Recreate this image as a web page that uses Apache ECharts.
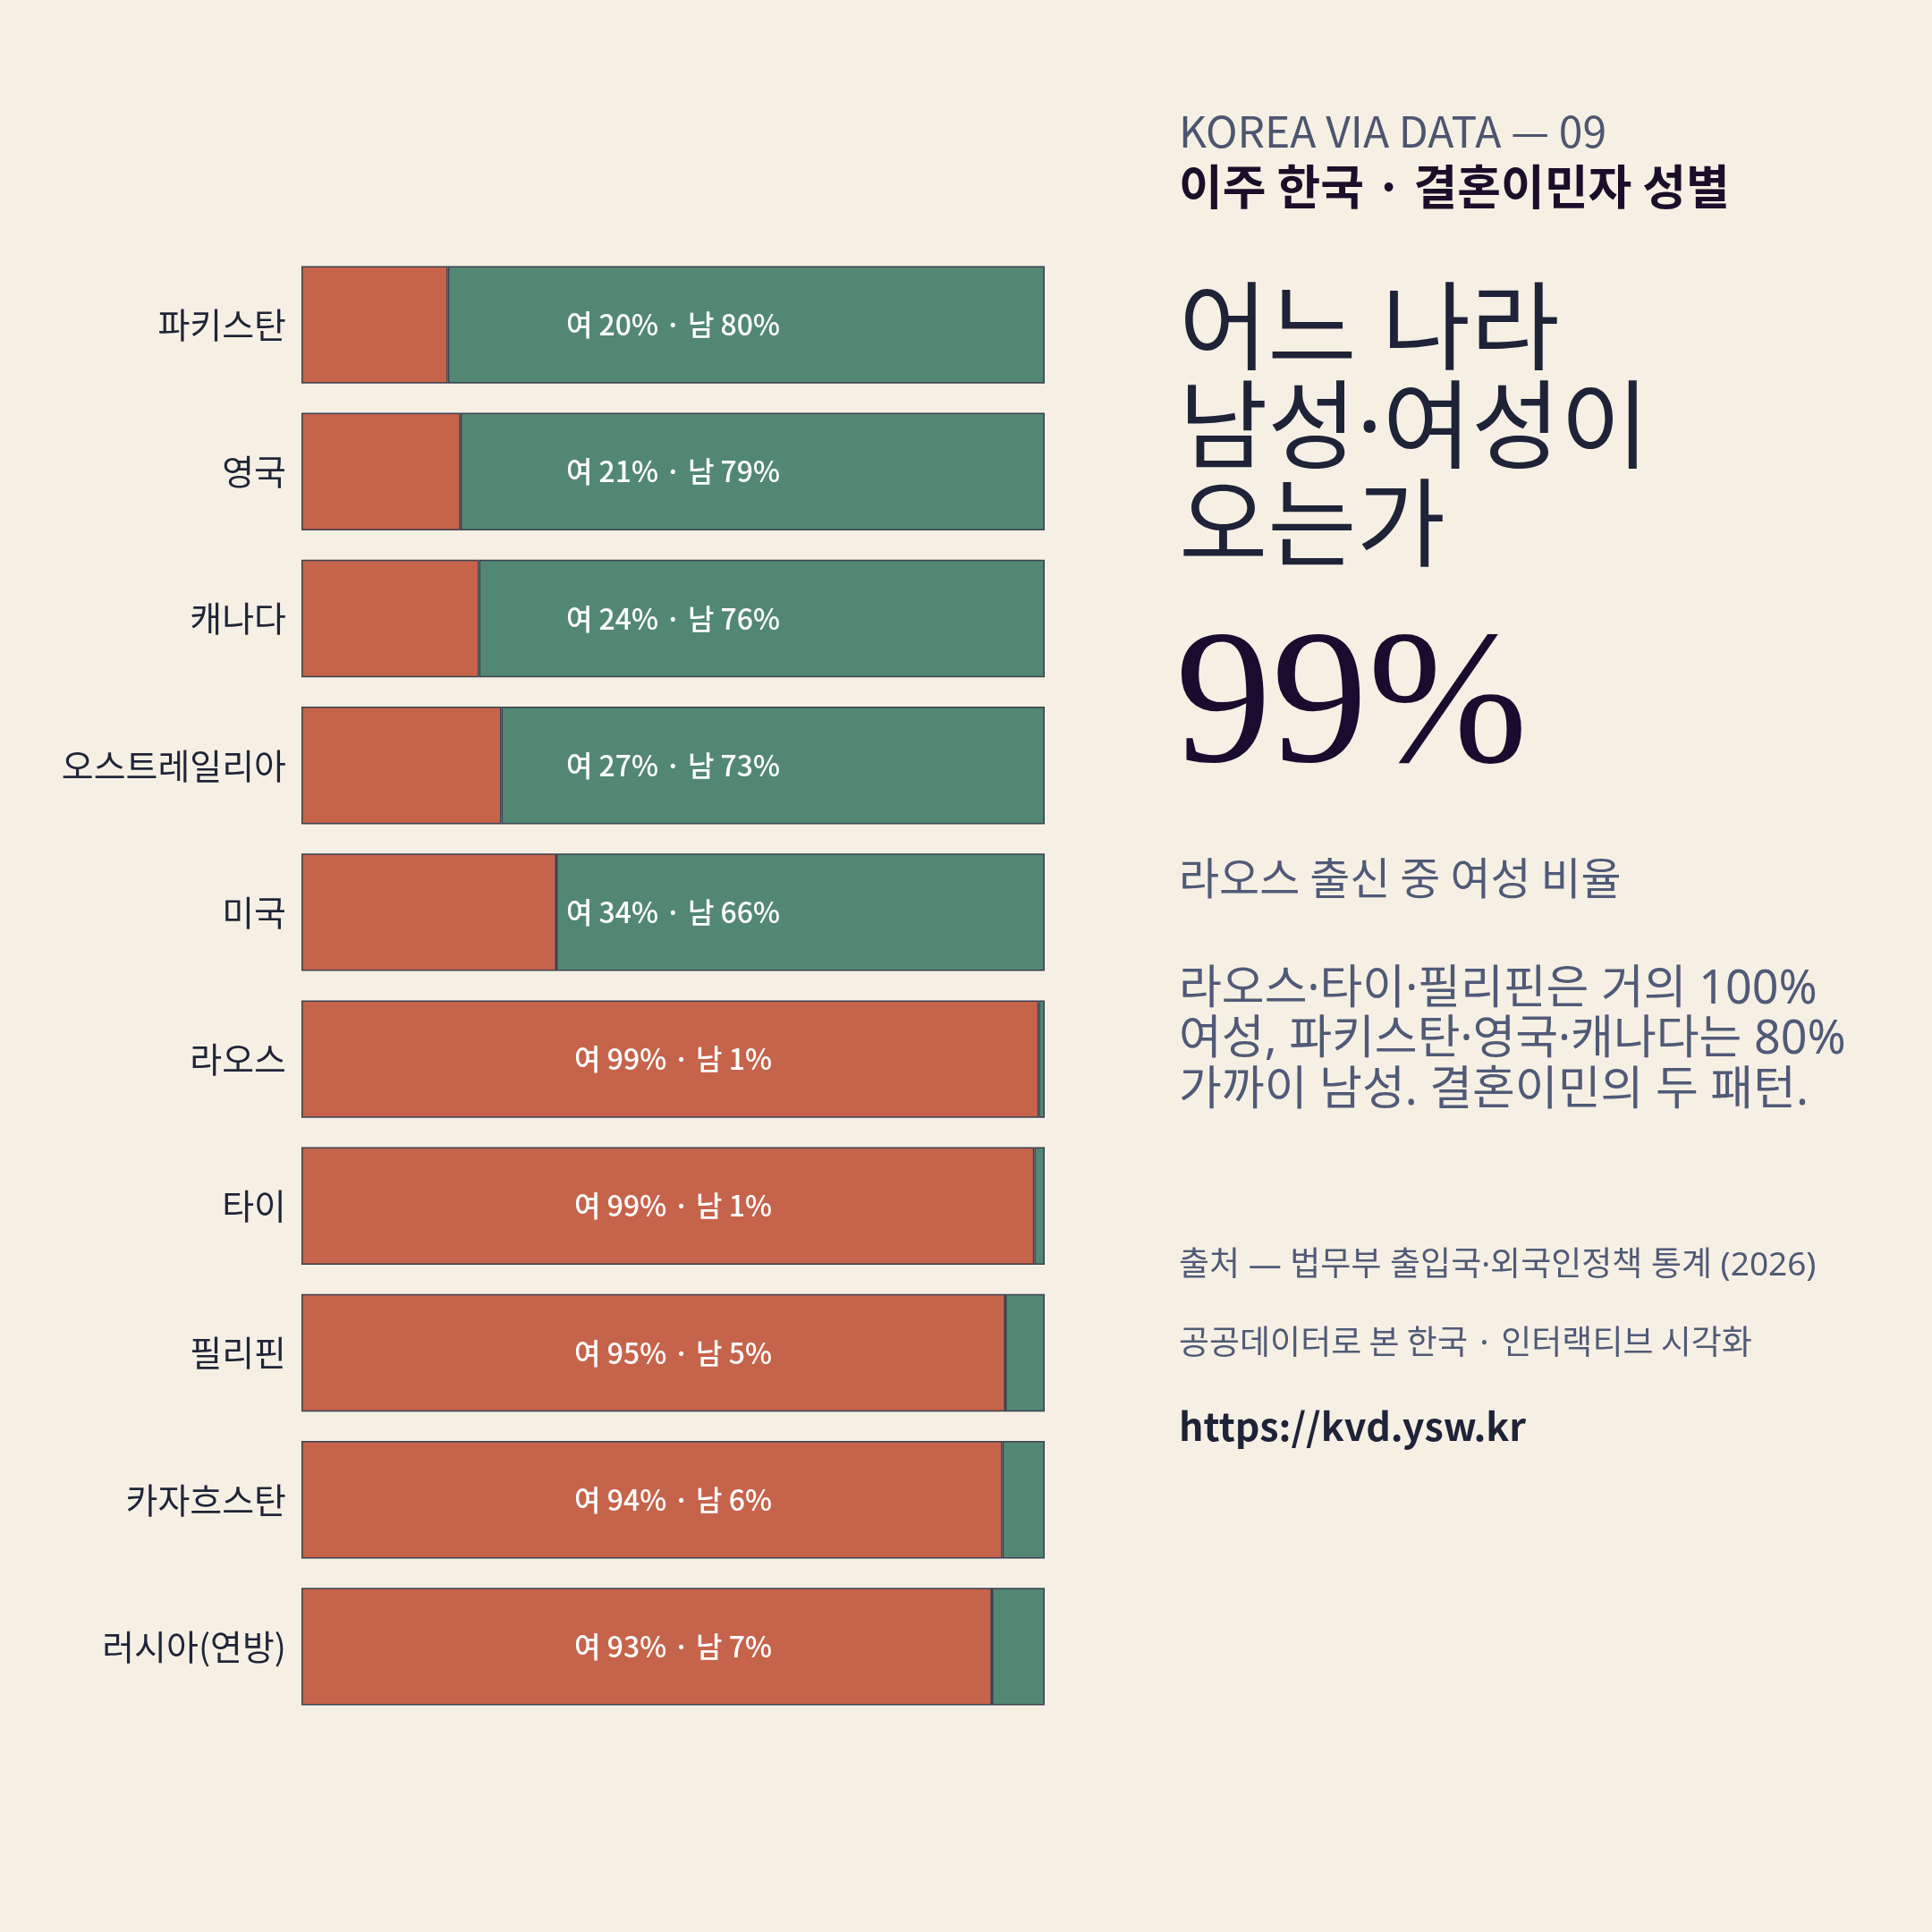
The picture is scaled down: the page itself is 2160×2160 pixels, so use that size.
<!DOCTYPE html>
<html><head><meta charset="utf-8">
<script src="https://cdn.jsdelivr.net/npm/echarts@6/dist/echarts.min.js"></script>
<style>html,body{margin:0;padding:0;background:#F6F0E4;}#c{width:2160px;height:2160px;}</style>
</head><body><div id="c"></div>
<script>
const countries = ['파키스탄','영국','캐나다','오스트레일리아','미국','라오스','타이','필리핀','카자흐스탄','러시아(연방)'];
const femaleShare = [19.7, 21.4, 23.9, 26.9, 34.3, 99.2, 98.6, 94.7, 94.3, 92.9];
const maleShare   = [80.3, 78.6, 76.1, 73.1, 65.7, 0.8, 1.4, 5.3, 5.7, 7.1];

const FONT = "'Noto Sans CJK KR', 'Noto Sans', sans-serif";
const FONT2 = "'Noto Sans', 'Noto Sans CJK KR', sans-serif";
const chart = echarts.init(document.getElementById('c'), null, {renderer:'canvas'});
const border = '#3a4050';
const X = 1318;
chart.setOption({
  backgroundColor: '#F6F0E4',
  animation: false,
  grid: {left: 337, right: 992, top: 281, bottom: 237, containLabel: false},
  xAxis: {type: 'value', min: 0, max: 100, show: false},
  yAxis: {
    type: 'category', data: countries, inverse: true,
    axisLine: {show: false}, axisTick: {show: false},
    axisLabel: {margin: 17, fontSize: 39, color: '#1f2438', fontFamily: FONT}
  },
  series: [
    {name: '여', type: 'bar', stack: 's', data: femaleShare, barCategoryGap: '20%', barGap: '-100%',
     itemStyle: {color: '#C6634B', borderColor: border, borderWidth: 1.5}},
    {name: '남', type: 'bar', stack: 's', data: maleShare, barCategoryGap: '20%', barGap: '-100%',
     itemStyle: {color: '#528774', borderColor: border, borderWidth: 1.5}},
    {name: 'label', type: 'bar', z: 10, barCategoryGap: '20%', barGap: '-100%',
     data: femaleShare.map((f, i) => f + maleShare[i]),
     itemStyle: {color: 'rgba(0,0,0,0)', borderWidth: 0},
     label: {show: true, position: 'inside', color: '#ffffff', fontSize: 32, fontWeight: 500, fontFamily: FONT,
       formatter: p => '여 ' + Math.round(femaleShare[p.dataIndex]) + '% · 남 ' + Math.round(maleShare[p.dataIndex]) + '%'}}
  ],
  graphic: [
    {type:'text', x: X, y: 147, style:{text:'KOREA VIA DATA — 09', fontSize: 48, fontFamily: FONT, fill:'#4d5570', textVerticalAlign:'middle'}},
    {type:'text', x: X, y: 209, style:{text:'이주 한국 · 결혼이민자 성별', fontSize: 53, fontWeight: 'bold', fontFamily: FONT, fill:'#1a0f2a', textVerticalAlign:'middle'}},
    {type:'text', x: X, y: 374, style:{text:'어느 나라', fontSize: 108, fontFamily: FONT2, fill:'#1e2338', textVerticalAlign:'middle'}},
    {type:'text', x: X, y: 484, style:{text:'남성·여성이', fontSize: 108, fontFamily: FONT2, fill:'#1e2338', textVerticalAlign:'middle'}},
    {type:'text', x: X, y: 594, style:{text:'오는가', fontSize: 108, fontFamily: FONT2, fill:'#1e2338', textVerticalAlign:'middle'}},
    {type:'text', x: X - 4, y: 902, style:{text:'99%', fontSize: 215, fontFamily: "'Liberation Serif', serif", fill:'#1a0c2e', textVerticalAlign:'bottom'}},
    {type:'text', x: X, y: 981, style:{text:'라오스 출신 중 여성 비율', fontSize: 49, fontFamily: FONT, fill:'#505a78', textVerticalAlign:'middle'}},
    {type:'text', x: X, y: 1107, style:{text:'라오스·타이·필리핀은 거의 100%', fontSize: 52, fontFamily: FONT2, fill:'#505a78', textVerticalAlign:'middle'}},
    {type:'text', x: X, y: 1163, style:{text:'여성, 파키스탄·영국·캐나다는 80%', fontSize: 52, fontFamily: FONT2, fill:'#505a78', textVerticalAlign:'middle'}},
    {type:'text', x: X, y: 1220, style:{text:'가까이 남성. 결혼이민의 두 패턴.', fontSize: 52, fontFamily: FONT2, fill:'#505a78', textVerticalAlign:'middle'}},
    {type:'text', x: X, y: 1415, style:{text:'출처 — 법무부 출입국·외국인정책 통계 (2026)', fontSize: 37, fontFamily: FONT2, fill:'#505a78', textVerticalAlign:'middle'}},
    {type:'text', x: X, y: 1500, style:{text:'공공데이터로 본 한국 · 인터랙티브 시각화', fontSize: 37, fontFamily: FONT, fill:'#505a78', textVerticalAlign:'middle'}},
    {type:'text', x: X, y: 1595, style:{text:'https://kvd.ysw.kr', fontSize: 43, fontWeight: 'bold', fontFamily: FONT, fill:'#1e2338', textVerticalAlign:'middle'}}
  ]
});
</script></body></html>
